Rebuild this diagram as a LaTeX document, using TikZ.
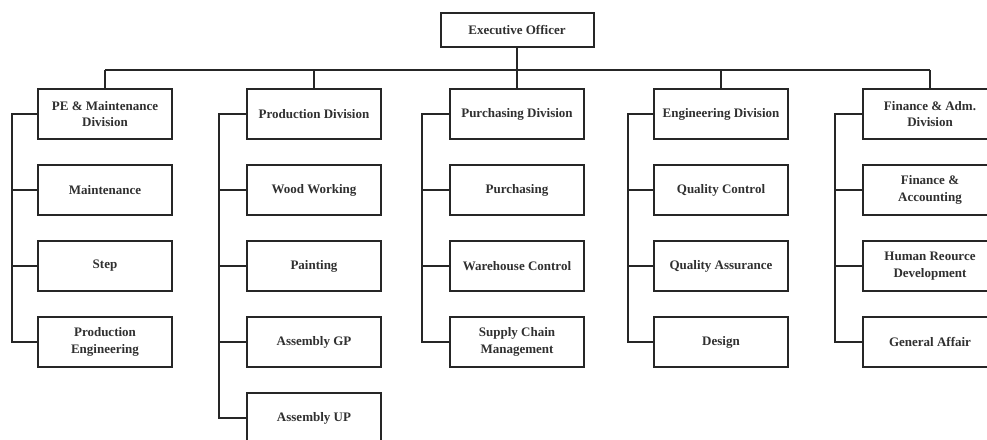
\documentclass[tikz,border=0pt]{standalone}
\usepackage{fontspec}
\setmainfont{Liberation Serif}
\usetikzlibrary{shadows}
\definecolor{ln}{HTML}{262626}
\definecolor{tx}{HTML}{303030}
\begin{document}
\begin{tikzpicture}[x=1pt,y=-1pt,
  box/.style={draw=ln, line width=2pt, fill=white, minimum width=134pt, minimum height=50pt,
    align=center, inner sep=2pt, text=tx, font=\fontsize{13}{16.5}\selectfont\bfseries,
    drop shadow={shadow xshift=1.2pt, shadow yshift=-1.2pt, opacity=0.3}},
  conn/.style={draw=ln, line width=2pt}]
\useasboundingbox (0,0) rectangle (987,439);
\clip (0,0) rectangle (987,439);
\fill[white] (0,0) rectangle (987,439);
% top
\node[box, minimum width=153pt, minimum height=34pt] (exec) at (517,30) {Executive Officer};
% column 1
\node[box] (a0) at (105,114) {PE \& Maintenance\\Division};
\node[box] (a1) at (105,190) {Maintenance};
\node[box] (a2) at (105,266) {Step};
\node[box] (a3) at (105,342) {Production\\Engineering};
% column 2
\node[box] (b0) at (314,114) {Production Division};
\node[box] (b1) at (314,190) {Wood Working};
\node[box] (b2) at (314,266) {Painting};
\node[box] (b3) at (314,342) {Assembly GP};
\node[box] (b4) at (314,418) {Assembly UP};
% column 3
\node[box] (c0) at (517,114) {Purchasing Division};
\node[box] (c1) at (517,190) {Purchasing};
\node[box] (c2) at (517,266) {Warehouse Control};
\node[box] (c3) at (517,342) {Supply Chain\\Management};
% column 4
\node[box] (d0) at (721,114) {Engineering Division};
\node[box] (d1) at (721,190) {Quality Control};
\node[box] (d2) at (721,266) {Quality Assurance};
\node[box] (d3) at (721,342) {Design};
% column 5
\node[box] (e0) at (930,114) {Finance \& Adm.\\Division};
\node[box] (e1) at (930,190) {Finance \&\\Accounting};
\node[box] (e2) at (930,266) {Human Reource\\Development};
\node[box] (e3) at (930,342) {General Affair};
% bus
\coordinate (busL) at (105,70);
\coordinate (busR) at (930,70);
\draw[conn] (busL) -- (busR);
\draw[conn] (exec.south) -- (exec.south |- busL);
\foreach \n in {a0,b0,c0,d0,e0}{
  \draw[conn] (\n.north |- busL) -- (\n.north);
}
% spines
\coordinate (sa) at (12,0);
\coordinate (sb) at (219,0);
\coordinate (sc) at (422,0);
\coordinate (sd) at (628,0);
\coordinate (se) at (835,0);
\draw[conn] (a0.west) -- (a0.west -| sa) -- (sa |- a3.west) -- (a3.west);
\draw[conn] (sa |- a1.west) -- (a1.west);
\draw[conn] (sa |- a2.west) -- (a2.west);
\draw[conn] (b0.west) -- (b0.west -| sb) -- (sb |- b4.west) -- (b4.west);
\draw[conn] (sb |- b1.west) -- (b1.west);
\draw[conn] (sb |- b2.west) -- (b2.west);
\draw[conn] (sb |- b3.west) -- (b3.west);
\draw[conn] (c0.west) -- (c0.west -| sc) -- (sc |- c3.west) -- (c3.west);
\draw[conn] (sc |- c1.west) -- (c1.west);
\draw[conn] (sc |- c2.west) -- (c2.west);
\draw[conn] (d0.west) -- (d0.west -| sd) -- (sd |- d3.west) -- (d3.west);
\draw[conn] (sd |- d1.west) -- (d1.west);
\draw[conn] (sd |- d2.west) -- (d2.west);
\draw[conn] (e0.west) -- (e0.west -| se) -- (se |- e3.west) -- (e3.west);
\draw[conn] (se |- e1.west) -- (e1.west);
\draw[conn] (se |- e2.west) -- (e2.west);
\end{tikzpicture}
\end{document}
